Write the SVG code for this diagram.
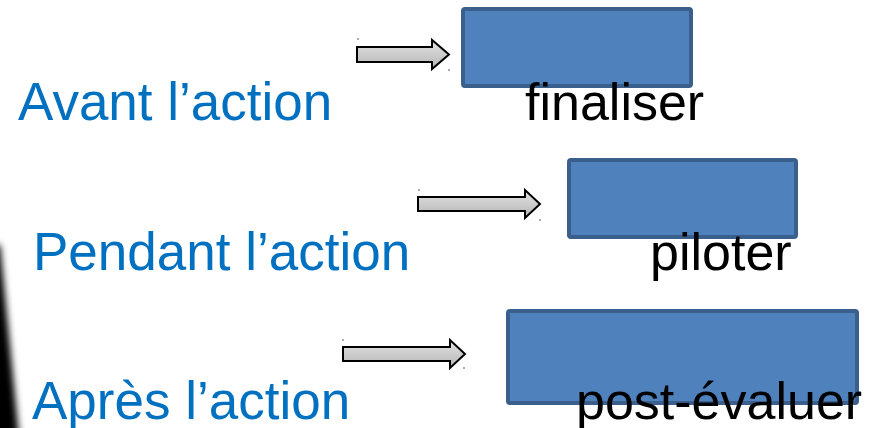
<svg xmlns="http://www.w3.org/2000/svg" width="869" height="428" viewBox="0 0 869 428">
<style>
.lbl{font-family:"Liberation Sans",Arial,sans-serif;font-size:53px;fill:#0070c0}
.txt{font-family:"Liberation Sans",Arial,sans-serif;font-size:52px;fill:#000}
.box{fill:#4f81bd;stroke:#3b5f8c;stroke-width:4}
.arr{fill:url(#ag);stroke:#000;stroke-width:2;stroke-linejoin:miter}
.dot{fill:#444}
</style>
<defs>
<linearGradient id="ag" x1="0" y1="0" x2="0" y2="1">
<stop offset="0" stop-color="#e4e4e4"/>
<stop offset="1" stop-color="#b4b4b4"/>
</linearGradient>
<filter id="bl" x="-50%" y="-10%" width="200%" height="120%"><feGaussianBlur stdDeviation="3.5"/></filter>
</defs>
<rect width="869" height="428" fill="#fff"/>
<polygon points="-8,245 0,245 19,436 -8,436" fill="#000" filter="url(#bl)"/>
<g id="connectors">
<polygon class="arr" points="357,47 432,47 432,40 449,54.5 432,69 432,62 357,62"/>
<polygon class="arr" points="418,197 525,197 525,190 540,204 525,218 525,211 418,211"/>
<polygon class="arr" points="343,347 450,347 450,340 465,354 450,368 450,361 343,361"/>
<circle class="dot" cx="358" cy="39" r="0.8"/>
<circle class="dot" cx="449" cy="70" r="0.8"/>
<circle class="dot" cx="419" cy="190" r="0.8"/>
<circle class="dot" cx="540" cy="220" r="0.8"/>
<circle class="dot" cx="343" cy="340" r="0.8"/>
<circle class="dot" cx="464" cy="368" r="0.8"/>
</g>
<g id="avant"><text class="lbl" x="18" y="120">Avant l’action</text></g>
<g id="pendant"><text class="lbl" x="33" y="270">Pendant l’action</text></g>
<g id="apres"><text class="lbl" x="32" y="419">Après l’action</text></g>
<g id="finaliser">
<rect class="box" x="463" y="9" width="228" height="77" rx="2"/>
<text class="txt" x="525" y="120">finaliser</text>
</g>
<g id="piloter">
<rect class="box" x="569" y="160" width="227" height="77" rx="2"/>
<text class="txt" x="650" y="270">piloter</text>
</g>
<g id="post-evaluer">
<rect class="box" x="508" y="311" width="349" height="92" rx="2"/>
<text class="txt" x="576" y="419">post-évaluer</text>
</g>
</svg>
